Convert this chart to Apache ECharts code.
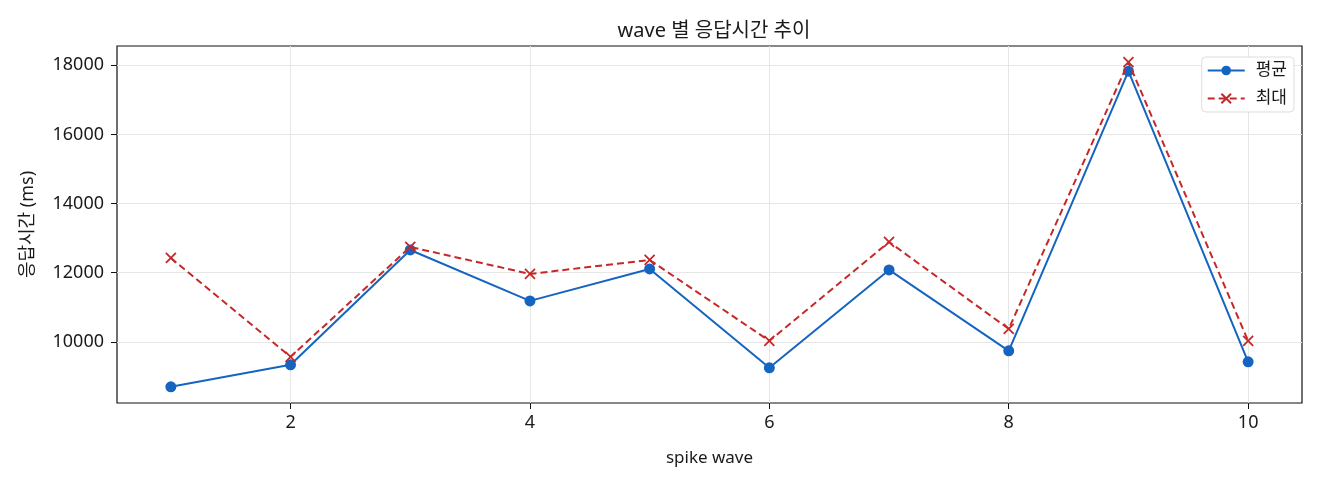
<!DOCTYPE html>
<html>
<head>
<meta charset="utf-8">
<script src="https://cdn.jsdelivr.net/npm/echarts@6/dist/echarts.min.js"></script>
<style>
  html, body { margin: 0; padding: 0; background: #fff; }
  #chart { width: 1320px; height: 480px; }
</style>
</head>
<body>
<div id="chart"></div>
<script>
const waves = [1, 2, 3, 4, 5, 6, 7, 8, 9, 10]
const avgMs = [8700, 9336, 12657, 11184, 12108, 9249, 12079, 9740, 17827, 9422]
const maxMs = [12426, 9567, 12744, 11964, 12368, 10029, 12888, 10375, 18087, 10029]
const xTicks = [2, 4, 6, 8, 10]
const yTicks = [10000, 12000, 14000, 16000, 18000]

const font = '"Noto Sans", "Noto Sans CJK KR", sans-serif'
const ink = '#1a1a1a'
const pairs = arr => waves.map((w, i) => [w, arr[i]])

const chart = echarts.init(document.getElementById('chart'))
chart.setOption({
  animation: false,
  textStyle: { fontFamily: font },
  title: {
    text: 'wave 별 응답시간 추이',
    left: 709,
    textAlign: 'center',
    top: 16,
    textStyle: { fontFamily: font, fontSize: 20, fontWeight: 'normal', color: ink }
  },
  grid: { left: 117, right: 18, top: 46, bottom: 77, containLabel: false,
    show: true, borderColor: '#111', borderWidth: 1.2 },
  legend: {
    orient: 'vertical',
    right: 26,
    top: 57,
    itemWidth: 37,
    itemHeight: 12,
    itemGap: 11,
    padding: [5, 7, 5, 5],
    backgroundColor: '#fff',
    borderColor: '#ddd',
    borderWidth: 1,
    borderRadius: 4,
    textStyle: { fontFamily: font, fontSize: 17, color: ink, padding: [0, 0, 0, 6] },
    data: ['평균', '최대']
  },
  xAxis: {
    type: 'value',
    min: 0.55,
    max: 10.45,
    name: 'spike wave',
    nameLocation: 'middle',
    nameGap: 47,
    nameTextStyle: { fontFamily: font, fontSize: 17, color: ink },
    axisLine: { show: false },
    axisTick: { show: true, length: 6, customValues: xTicks, lineStyle: { color: '#111' } },
    axisLabel: { customValues: xTicks, fontFamily: font, fontSize: 18, color: ink, margin: 11 },
    splitLine: { show: true, lineStyle: { color: '#e6e6e6', width: 1 } }
  },
  yAxis: {
    type: 'value',
    min: 8231,
    max: 18556,
    name: '응답시간 (ms)',
    nameLocation: 'middle',
    nameGap: 80,
    nameRotate: 90,
    nameTextStyle: { fontFamily: font, fontSize: 18, color: ink },
    axisLine: { show: false },
    axisTick: { show: true, length: 6, customValues: yTicks, lineStyle: { color: '#111' } },
    axisLabel: { customValues: yTicks, formatter: v => String(v), fontFamily: font, fontSize: 18, color: ink, margin: 13 },
    splitLine: { show: true, lineStyle: { color: '#e6e6e6', width: 1 } }
  },
  series: [
    {
      name: '평균',
      type: 'line',
      data: pairs(avgMs),
      symbol: 'circle',
      symbolSize: 11,
      itemStyle: { color: '#1565c0' },
      lineStyle: { color: '#1565c0', width: 2 },
      z: 3
    },
    {
      name: '최대',
      type: 'line',
      data: pairs(maxMs),
      symbol: 'path://M0,0 L10,10 M10,0 L0,10',
      symbolSize: 10,
      itemStyle: { color: 'none', borderColor: '#c62828', borderWidth: 1.8 },
      lineStyle: { color: '#c62828', width: 2, type: [7, 4] },
      z: 4
    }
  ]
})
</script>
</body>
</html>
